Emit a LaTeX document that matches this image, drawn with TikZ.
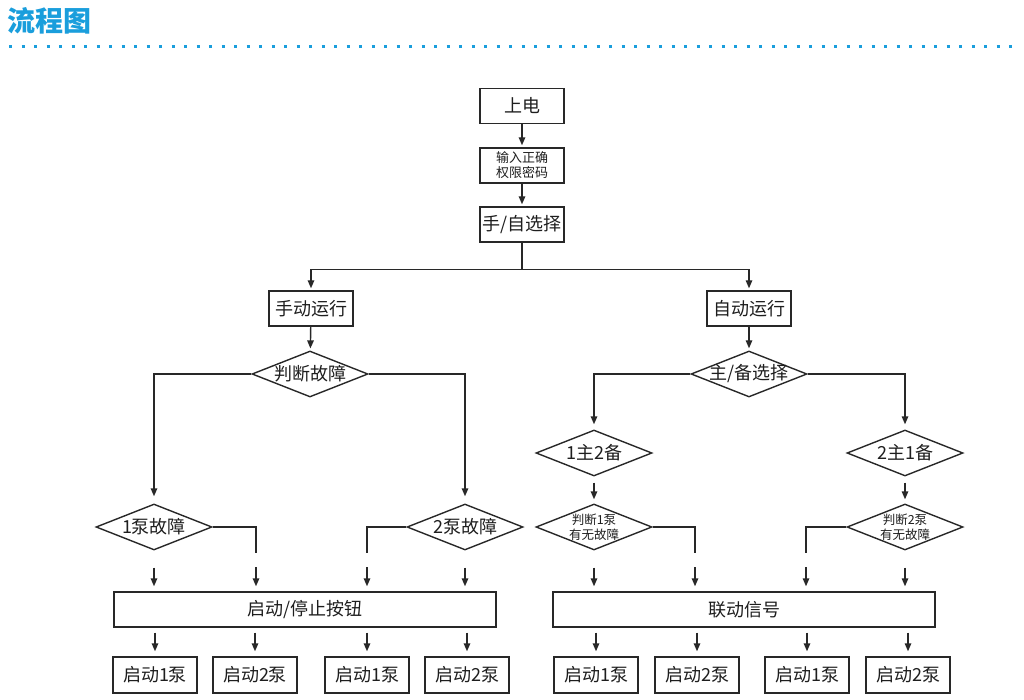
\documentclass[tikz,border=0pt]{standalone}
\usepackage{fontspec}
\setmainfont{Noto Sans CJK SC}
\usetikzlibrary{shapes.geometric,arrows.meta}
\definecolor{titleblue}{RGB}{26,158,220}
\definecolor{linegray}{RGB}{40,40,40}
\definecolor{textgray}{RGB}{30,30,30}

\tikzset{
  box/.style={draw=linegray,line width=1.4pt,minimum width=84pt,minimum height=35pt,inner sep=0pt,text=textgray,font=\fontsize{18}{20}\selectfont},
  smallbox/.style={box,align=center,font=\fontsize{13}{15}\selectfont},
  widebox/.style={box,minimum width=382pt},
  dia/.style={draw=linegray,line width=1.4pt,diamond,minimum width=116pt,minimum height=46pt,inner sep=0pt},
  every label/.style={text=textgray,font=\fontsize{18}{20}\selectfont,inner sep=0pt},
  smalltxt/.style={align=center,font=\fontsize{12.5}{15}\selectfont},
  arr/.style={draw=linegray,line width=1.4pt,-{Triangle[length=8pt,width=6.5pt]},shorten >=2pt},
  gap/.style={arr,shorten <=14pt,shorten >=5pt},
  ln/.style={draw=linegray,line width=1.4pt}
}

\begin{document}
\begin{tikzpicture}[x=1pt,y=-1pt]
\useasboundingbox (0,0) rectangle (1024,700);

% title
\node[anchor=west,inner sep=0pt,text=titleblue,font=\fontsize{28}{30}\selectfont\bfseries] (title) at (7,21) {流程图};
\draw[titleblue,line width=3pt,dash pattern=on 3pt off 9.5pt] (9,47) -- (1020,47);

% start
\node[box] (pwr) at (522,106) {上电};
\node[smallbox] (pwd) at (522,165.5) {输入正确\\权限密码};
\node[box] (sel) at (522,224.5) {手/自选择};
\draw[arr] (pwr) -- (pwd);
\draw[arr] (pwd) -- (sel);

% manual / auto
\node[box] (man) at (311,308.5) {手动运行};
\node[box] (aut) at (749,308.5) {自动运行};
\draw[arr] (sel.south) -- ++(0,27) -| (man.north);
\draw[arr] (sel.south) -- ++(0,27) -| (aut.north);

% manual branch
\node[dia,label=center:判断故障] (chk) at (310,374) {};
\node[dia,label=center:1泵故障] (f1) at (154,527) {};
\node[dia,label=center:2泵故障] (f2) at (465,527) {};
\draw[arr] (man) -- (chk);
\draw[arr,shorten >=7pt] (chk.west) -| (f1.north);
\draw[arr,shorten >=7pt] (chk.east) -| (f2.north);

% auto branch
\node[dia,label=center:主/备选择] (ms) at (749,374) {};
\node[dia,label=center:1主2备] (m12) at (594,453) {};
\node[dia,label=center:2主1备] (m21) at (905,453) {};
\node[dia,label={[smalltxt]center:判断1泵\\有无故障}] (j1) at (594,527) {};
\node[dia,label={[smalltxt]center:判断2泵\\有无故障}] (j2) at (905,527) {};
\draw[arr] (aut) -- (ms);
\draw[arr,shorten >=5pt] (ms.west) -| (m12.north);
\draw[arr,shorten >=5pt] (ms.east) -| (m21.north);
\draw[arr,shorten <=6pt,shorten >=4pt] (m12) -- (j1);
\draw[arr,shorten <=6pt,shorten >=4pt] (m21) -- (j2);

% control boxes
\node[widebox] (btn) at (305,609.5) {启动/停止按钮};
\node[widebox] (lnk) at (744,609.5) {联动信号};

\coordinate (e1) at (256,553);
\coordinate (e2) at (367,553);
\coordinate (e3) at (695,553);
\coordinate (e4) at (806,553);
\draw[ln] (f1.east) -| (e1);
\draw[ln] (f2.west) -| (e2);
\draw[ln] (j1.east) -| (e3);
\draw[ln] (j2.west) -| (e4);

\draw[gap,shorten <=17pt] (f1.south) -- (f1.south |- btn.north);
\draw[gap] (e1) -- (e1 |- btn.north);
\draw[gap] (e2) -- (e2 |- btn.north);
\draw[gap,shorten <=17pt] (f2.south) -- (f2.south |- btn.north);
\draw[gap,shorten <=17pt] (j1.south) -- (j1.south |- lnk.north);
\draw[gap] (e3) -- (e3 |- lnk.north);
\draw[gap] (e4) -- (e4 |- lnk.north);
\draw[gap,shorten <=17pt] (j2.south) -- (j2.south |- lnk.north);

% pumps
\node[box,minimum height=36pt] (p1) at (155,675) {启动1泵};
\node[box,minimum height=36pt] (p2) at (255,675) {启动2泵};
\node[box,minimum height=36pt] (p3) at (367,675) {启动1泵};
\node[box,minimum height=36pt] (p4) at (467,675) {启动2泵};
\node[box,minimum height=36pt] (q1) at (596,675) {启动1泵};
\node[box,minimum height=36pt] (q2) at (697,675) {启动2泵};
\node[box,minimum height=36pt] (q3) at (807,675) {启动1泵};
\node[box,minimum height=36pt] (q4) at (908,675) {启动2泵};

\draw[arr,shorten <=5pt,shorten >=5pt] (btn.south -| p1) -- (p1);
\draw[arr,shorten <=5pt,shorten >=5pt] (btn.south -| p2) -- (p2);
\draw[arr,shorten <=5pt,shorten >=5pt] (btn.south -| p3) -- (p3);
\draw[arr,shorten <=5pt,shorten >=5pt] (btn.south -| p4) -- (p4);
\draw[arr,shorten <=5pt,shorten >=5pt] (lnk.south -| q1) -- (q1);
\draw[arr,shorten <=5pt,shorten >=5pt] (lnk.south -| q2) -- (q2);
\draw[arr,shorten <=5pt,shorten >=5pt] (lnk.south -| q3) -- (q3);
\draw[arr,shorten <=5pt,shorten >=5pt] (lnk.south -| q4) -- (q4);
\end{tikzpicture}
\end{document}
